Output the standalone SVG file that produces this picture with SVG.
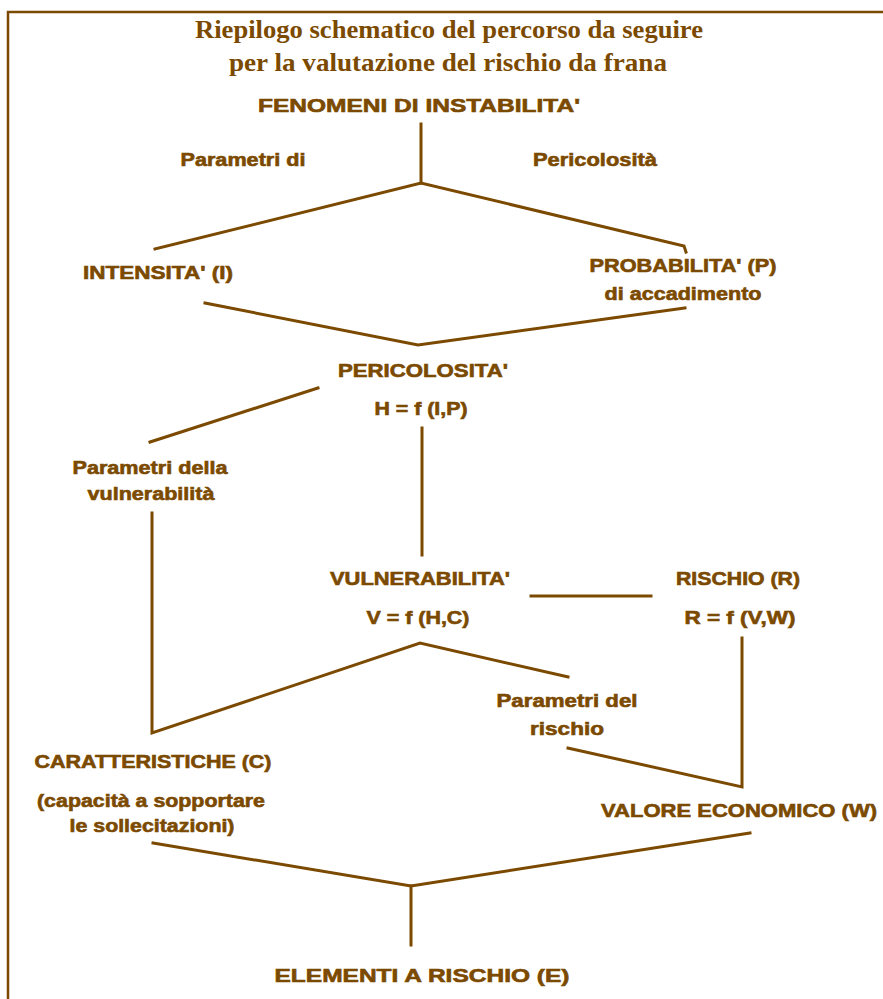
<svg xmlns="http://www.w3.org/2000/svg" width="883" height="999" viewBox="0 0 883 999">
<style>
.t{font-family:"Liberation Serif","Times New Roman",serif;font-weight:bold;font-size:26px;fill:#7b4a00;text-anchor:middle}
.n{font-family:"Liberation Sans",Arial,sans-serif;font-weight:bold;font-size:18px;fill:#7b4a00;stroke:#7b4a00;stroke-width:0.6;text-anchor:middle}
.c{stroke:#7b4a00;stroke-width:3;fill:none;stroke-linecap:square;stroke-linejoin:miter}
</style>
<rect width="883" height="999" fill="#fff"/>
<path d="M8 999 V12 H883" stroke="#7b4a00" stroke-width="2.5" fill="none"/>
<g id="title">
<text class="t" x="449" y="38" textLength="508" lengthAdjust="spacingAndGlyphs">Riepilogo schematico del percorso da seguire</text>
<text class="t" x="448" y="71" textLength="438" lengthAdjust="spacingAndGlyphs">per la valutazione del rischio da frana</text>
</g>
<g id="connectors">
<path class="c" d="M421 124 V183"/>
<path class="c" d="M155 249 L421 183 L684 246 L686 252"/>
<path class="c" d="M205 303 L418 345 L685 308"/>
<path class="c" d="M150 442 L318 388"/>
<path class="c" d="M422 428 V555"/>
<path class="c" d="M152 513 V733 L420 643 L568 677"/>
<path class="c" d="M531 596 H651"/>
<path class="c" d="M742 638 V787 L568 748"/>
<path class="c" d="M153 843 L411 886 L750 833"/>
<path class="c" d="M411 886 V945"/>
</g>
<g id="n-fenomeni"><text class="n" x="419" y="112" textLength="322" lengthAdjust="spacingAndGlyphs">FENOMENI DI INSTABILITA'</text></g>
<g id="n-param-peric">
<text class="n" x="243" y="166" textLength="125" lengthAdjust="spacingAndGlyphs">Parametri di</text>
<text class="n" x="595" y="166" textLength="124" lengthAdjust="spacingAndGlyphs">Pericolosità</text>
</g>
<g id="n-intensita"><text class="n" x="158" y="279" textLength="150" lengthAdjust="spacingAndGlyphs">INTENSITA' (I)</text></g>
<g id="n-probabilita">
<text class="n" x="683" y="272" textLength="187" lengthAdjust="spacingAndGlyphs">PROBABILITA' (P)</text>
<text class="n" x="683" y="300" textLength="157" lengthAdjust="spacingAndGlyphs">di accadimento</text>
</g>
<g id="n-pericolosita">
<text class="n" x="423" y="377" textLength="170" lengthAdjust="spacingAndGlyphs">PERICOLOSITA'</text>
<text class="n" x="421" y="415" textLength="93" lengthAdjust="spacingAndGlyphs">H = f (I,P)</text>
</g>
<g id="n-param-vuln">
<text class="n" x="150" y="474" textLength="155" lengthAdjust="spacingAndGlyphs">Parametri della</text>
<text class="n" x="151" y="500" textLength="127" lengthAdjust="spacingAndGlyphs">vulnerabilità</text>
</g>
<g id="n-vulnerabilita">
<text class="n" x="420" y="585" textLength="180" lengthAdjust="spacingAndGlyphs">VULNERABILITA'</text>
<text class="n" x="418" y="624" textLength="103" lengthAdjust="spacingAndGlyphs">V = f (H,C)</text>
</g>
<g id="n-rischio">
<text class="n" x="738" y="585" textLength="124" lengthAdjust="spacingAndGlyphs">RISCHIO (R)</text>
<text class="n" x="740" y="624" textLength="111" lengthAdjust="spacingAndGlyphs">R = f (V,W)</text>
</g>
<g id="n-param-rischio">
<text class="n" x="567" y="707" textLength="141" lengthAdjust="spacingAndGlyphs">Parametri del</text>
<text class="n" x="567" y="735" textLength="74" lengthAdjust="spacingAndGlyphs">rischio</text>
</g>
<g id="n-caratteristiche">
<text class="n" x="153" y="768" textLength="237" lengthAdjust="spacingAndGlyphs">CARATTERISTICHE (C)</text>
<text class="n" x="151" y="807" textLength="228" lengthAdjust="spacingAndGlyphs">(capacità a sopportare</text>
<text class="n" x="152" y="832" textLength="165" lengthAdjust="spacingAndGlyphs">le sollecitazioni)</text>
</g>
<g id="n-valore"><text class="n" x="739" y="817" textLength="276" lengthAdjust="spacingAndGlyphs">VALORE ECONOMICO (W)</text></g>
<g id="n-elementi"><text class="n" x="422" y="982" textLength="295" lengthAdjust="spacingAndGlyphs">ELEMENTI A RISCHIO (E)</text></g>
</svg>
